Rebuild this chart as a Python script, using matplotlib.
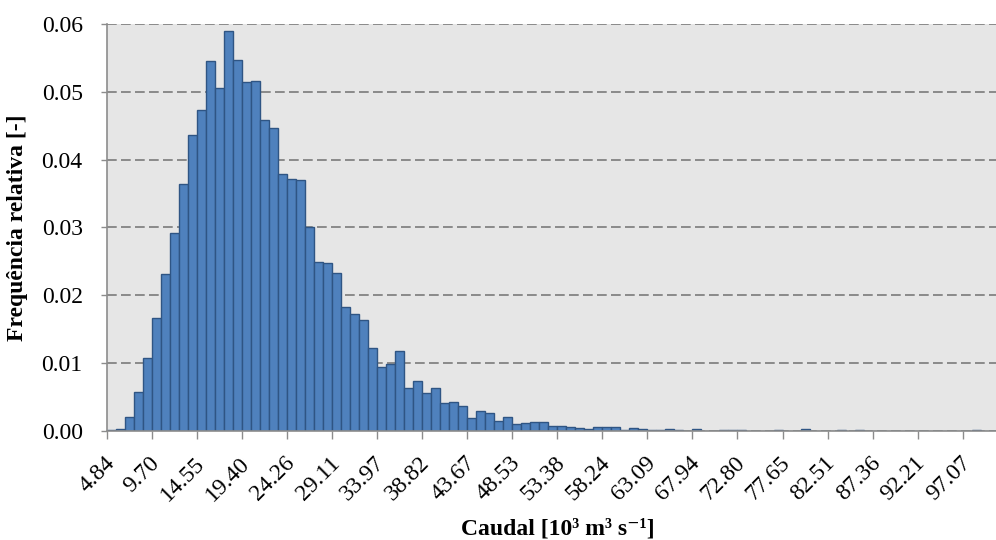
#!/usr/bin/env python3
import numpy as np
import matplotlib
matplotlib.use("Agg")
import matplotlib.pyplot as plt

# ------------------------------------------------------------
# Histogram data: relative frequency per flow class
# ------------------------------------------------------------

class_start = 4.84      # first class value [10^3 m3/s]
class_width = 0.9706    # class width [10^3 m3/s]

freq = [
    0.0002, 0.0003, 0.0020, 0.0057, 0.0107, 0.0166, 0.0231, 0.0292, 0.0364, 0.0437,
    0.0473, 0.0545, 0.0506, 0.0590, 0.0547, 0.0514, 0.0516, 0.0458, 0.0446, 0.0379,
    0.0371, 0.0370, 0.0301, 0.0249, 0.0247, 0.0233, 0.0183, 0.0173, 0.0163, 0.0122,
    0.0095, 0.0099, 0.0118, 0.0064, 0.0073, 0.0056, 0.0064, 0.0041, 0.0043, 0.0037,
    0.0019, 0.0030, 0.0027, 0.0014, 0.0020, 0.0010, 0.0012, 0.0013, 0.0013, 0.0008,
    0.0008, 0.0006, 0.0004, 0.0003, 0.0006, 0.0006, 0.0006, 0.0001, 0.0004, 0.0003,
    0.0001, 0.0002, 0.0003, 0.0001, 0.0000, 0.0003, 0.0000, 0.0000, 0.0001, 0.0002,
    0.0001, 0.0000, 0.0000, 0.0000, 0.0001, 0.0000, 0.0000, 0.0003, 0.0000, 0.0000,
    0.0000, 0.0001, 0.0000, 0.0001, 0.0000, 0.0000, 0.0000, 0.0000, 0.0000, 0.0000,
    0.0000, 0.0000, 0.0000, 0.0000, 0.0000, 0.0000, 0.0001, 0.0000, 0.0000,
]

tick_labels = [
    "4.84", "9.70", "14.55", "19.40", "24.26", "29.11", "33.97", "38.82", "43.67", "48.53",
    "53.38", "58.24", "63.09", "67.94", "72.80", "77.65", "82.51", "87.36", "92.21", "97.07",
]

y_ticks = [0.00, 0.01, 0.02, 0.03, 0.04, 0.05, 0.06]

# ------------------------------------------------------------
# Style
# ------------------------------------------------------------

plt.rcParams["font.family"] = ["Liberation Serif", "DejaVu Serif"]

GRID_GREY = "#8a8a8a"
AXIS_GREY = "#8c8c8c"
BAR_FILL = "#4f81bd"
BAR_EDGE = "#2f5584"

# ------------------------------------------------------------
# Plot
# ------------------------------------------------------------

freq = np.array(freq)
centers = class_start + class_width * np.arange(len(freq))

fig = plt.figure(figsize=(9.96, 5.40), dpi=100)
ax = fig.add_axes([0.1074, 0.2019, 0.8926, 0.7537])
ax.set_facecolor("#e6e6e6")

ax.bar(centers, freq, width=class_width, color=BAR_FILL,
       edgecolor=BAR_EDGE, linewidth=1.0, zorder=3)

ax.set_ylim(0, 0.06)
ax.set_xlim(centers[0] - class_width / 2, centers[0] + (98.7 - 0.5) * class_width)

# y axis
ax.set_yticks(y_ticks)
ax.set_yticklabels([f"{v:.2f}" for v in y_ticks], fontsize=17)
ax.yaxis.grid(True, color=GRID_GREY, linestyle=(0, (5, 2.2)), linewidth=1.4, zorder=1)
ax.tick_params(axis="y", length=4.5, width=1.0, color=AXIS_GREY, pad=13)

# x axis: labels at class centres, tick marks at class boundaries
label_pos = centers[::5][:len(tick_labels)]
ax.set_xticks(label_pos)
ax.set_xticklabels(tick_labels, fontsize=17, rotation=45, ha="right",
                   va="center", rotation_mode="anchor")
ax.tick_params(axis="x", which="major", length=0, pad=21)
ax.set_xticks(label_pos - class_width / 2, minor=True)
ax.tick_params(axis="x", which="minor", length=6, width=1.0, color=AXIS_GREY)

for side in ("top", "right"):
    ax.spines[side].set_visible(False)
for side in ("left", "bottom"):
    ax.spines[side].set_color(AXIS_GREY)
    ax.spines[side].set_linewidth(1.2)
    ax.spines[side].set_zorder(4)

ax.set_ylabel("Frequência relativa [-]", fontsize=17, fontweight="bold")
ax.yaxis.set_label_coords(-0.089, 0.5)
ax.set_xlabel("Caudal [10³ m³ s⁻¹]", fontsize=17, fontweight="bold")
ax.xaxis.set_label_coords(0.507, -0.216)

fig.savefig("out.png", dpi=100)
